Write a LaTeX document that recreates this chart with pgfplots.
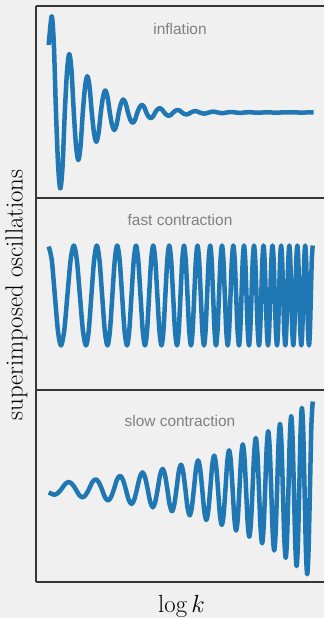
\documentclass[border=0pt]{standalone}
\usepackage{fontspec}
\usepackage{pgfplots}
\pgfplotsset{compat=1.18}
\newfontfamily\titlefont{Liberation Sans}
\definecolor{bgc}{RGB}{240,240,240}
\definecolor{curve}{RGB}{31,119,180}
\definecolor{framec}{RGB}{55,55,55}
\definecolor{titlec}{RGB}{128,128,128}
\pgfplotsset{
  panel/.style={scale only axis, width=288bp, height=192bp, xmin=36, xmax=324,
    ticks=none, axis x line*=box, axis y line*=left,
    axis line style={-, draw=framec, line width=1.3bp}, anchor=south west},
  curvestyle/.style={draw=curve, line width=4.5bp, smooth, no marks, line join=round}
}
\tikzset{ttl/.style={anchor=base, text=titlec, font=\titlefont\fontsize{15.5}{18}\selectfont}}
\begin{document}
\begin{tikzpicture}
\fill[bgc] (0,0) rectangle (324bp,618bp);
\useasboundingbox (0,0) rectangle (324bp,618bp);
% inflation
\begin{axis}[panel, at={(36bp,420bp)}, ymin=-85.5, ymax=106.5]
\addplot[curvestyle] coordinates {
(48.7,67.5) (51.7,96.3) (53.85,68.1) (56,0) (58.15,-53.7) (60.3,-76) (62.55,-53.7) (64.8,0) (67.05,41.4) (69.3,58.6) (71.55,41.4) (73.8,0) (76.05,-33.7) (78.3,-47.6) (80.55,-33.7) (82.8,0) (85.05,25.7) (87.3,36.3) (89.55,25.7) (91.8,0) (94.05,-20.7) (96.3,-29.3) (98.55,-20.7) (100.8,0) (103.05,15.6) (105.3,22) (107.55,15.6) (109.8,0) (112.05,-12.4) (114.3,-17.6) (116.55,-12.4) (118.8,0) (121.05,9.2) (123.3,13) (125.65,9.2) (128,0) (130.35,-7.3) (132.7,-10.3) (135.03,-7.3) (137.35,0) (139.68,5.4) (142,7.6) (144.18,5.4) (146.35,0) (148.53,-4.1) (150.7,-5.8) (152.95,-4.1) (155.2,0) (157.45,3.1) (159.7,4.4) (161.95,3.1) (164.2,0) (166.45,-2.4) (168.7,-3.4) (170.95,-2.4) (173.2,0) (175.45,1.8) (177.7,2.6) (179.95,1.8) (182,0) (184.15,-1.4) (186.3,-2.0) (188.55,-1.4) (190.8,0) (195.3,1.5) (199.8,0) (204.3,-1.2) (208.8,0) (213.3,0.9) (217.8,0) (222.3,-0.7) (226.8,0) (231.3,0.5) (235.8,0) (240.3,-0.4) (244.8,0) (249.3,0.3) (253.8,0) (258.3,-0.25) (262.8,0) (267.3,0.2) (271.8,0) (276.3,-0.15) (280.8,0) (285.3,0.1) (294.3,0) (313.7,0)
};
\node[ttl] at (rel axis cs:0.5,0.854) {inflation};
\end{axis}
% fast contraction
\begin{axis}[panel, at={(36bp,228bp)}, ymin=-94.5, ymax=97.5]
\addplot[curvestyle] coordinates {
(48.7,49) (51.78,35.4) (54.85,0) (57.93,-35.4) (61,-50) (64.2,-35.4) (67.4,0) (70.6,35.4) (73.8,50) (76.85,35.4) (79.9,0) (82.95,-35.4) (86,-50) (88.7,-35.4) (91.4,0) (94.1,35.4) (96.8,50) (99.48,35.4) (102.15,0) (104.83,-35.4) (107.5,-50) (109.93,-35.4) (112.35,0) (114.78,35.4) (117.2,50) (119.65,35.4) (122.1,0) (124.55,-35.4) (127,-50) (129.25,-35.4) (131.5,0) (133.75,35.4) (136,50) (138.25,35.4) (140.5,0) (142.75,-35.4) (145,-50) (147.05,-35.4) (149.1,0) (151.15,35.4) (153.2,50) (155.28,35.4) (157.35,0) (159.43,-35.4) (161.5,-50) (163.43,-35.4) (165.35,0) (167.28,35.4) (169.2,50) (171.15,35.4) (173.1,0) (175.05,-35.4) (177,-50) (178.75,-35.4) (180.5,0) (182.25,35.4) (184,50) (185.75,35.4) (187.5,0) (189.25,-35.4) (191,-50) (192.63,-35.4) (194.25,0) (195.88,35.4) (197.5,50) (199.13,35.4) (200.75,0) (202.38,-35.4) (204,-50) (205.55,-35.4) (207.1,0) (208.65,35.4) (210.2,50) (211.65,35.4) (213.1,0) (214.55,-35.4) (216,-50) (217.5,-35.4) (219,0) (220.5,35.4) (222,50) (223.43,35.4) (224.85,0) (226.28,-35.4) (227.7,-50) (229.1,-35.4) (230.5,0) (231.9,35.4) (233.3,50) (234.73,35.4) (236.15,0) (237.58,-35.4) (239,-50) (240.25,-35.4) (241.5,0) (242.75,35.4) (244,50) (245.25,35.4) (246.5,0) (247.75,-35.4) (249,-50) (250.25,-35.4) (251.5,0) (252.75,35.4) (254,50) (255.25,35.4) (256.5,0) (257.75,-35.4) (259,-50) (260.13,-35.4) (261.25,0) (262.38,35.4) (263.5,50) (264.63,35.4) (265.75,0) (266.88,-35.4) (268,-50) (269.13,-35.4) (270.25,0) (271.38,35.4) (272.5,50) (273.63,35.4) (274.75,0) (275.88,-35.4) (277,-50) (278.03,-35.4) (279.05,0) (280.08,35.4) (281.1,50) (282.15,35.4) (283.2,0) (284.25,-35.4) (285.3,-50) (286.3,-35.4) (287.3,0) (288.3,35.4) (289.3,50) (290.3,35.4) (291.3,0) (292.3,-35.4) (293.3,-50) (294.3,-35.4) (295.3,0) (296.3,35.4) (297.3,50) (298.3,35.4) (299.3,0) (300.3,-35.4) (301.3,-50) (302.28,-35.4) (303.25,0) (304.23,35.4) (305.2,50) (306.15,35.4) (307.1,0) (308.05,-35.4) (309,-50) (309.93,-35.4) (310.85,0) (311.78,35.4) (312.7,50)
};
\node[ttl] at (rel axis cs:0.5,0.859) {fast contraction};
\end{axis}
% slow contraction
\begin{axis}[panel, at={(36bp,36bp)}, ymin=-93, ymax=99]
\addplot[curvestyle] coordinates {
(48.7,-3.5) (54.3,-5.7) (57.9,-4.0) (61.5,0) (65.1,4.9) (68.7,7) (72.15,4.9) (75.6,0) (79.05,-5.9) (82.5,-8.3) (85.78,-5.9) (89.05,0) (92.33,6.9) (95.6,9.7) (98.7,6.9) (101.8,0) (104.9,-8.1) (108,-11.5) (111,-8.1) (114,0) (117,9.3) (120,13.2) (122.88,9.3) (125.75,0) (128.63,-10.6) (131.5,-15) (134.25,-10.6) (137,0) (139.75,11.7) (142.5,16.6) (145.08,11.7) (147.65,0) (150.23,-12.9) (152.8,-18.3) (155.25,-12.9) (157.7,0) (160.15,14.3) (162.6,20.2) (164.95,14.3) (167.3,0) (169.65,-15.7) (172,-22.2) (174.25,-15.7) (176.5,0) (178.75,17.2) (181,24.3) (183.18,17.2) (185.35,0) (187.53,-18.6) (189.7,-26.3) (191.8,-18.6) (193.9,0) (196,20.2) (198.1,28.6) (200.15,20.2) (202.2,0) (204.25,-21.9) (206.3,-31) (208.28,-21.9) (210.25,0) (212.23,23.6) (214.2,33.4) (216.1,23.6) (218,0) (219.9,-25.5) (221.8,-36) (223.63,-25.5) (225.45,0) (227.28,27.4) (229.1,38.7) (230.85,27.4) (232.6,0) (234.35,-29.4) (236.1,-41.6) (237.78,-29.4) (239.45,0) (241.13,31.6) (242.8,44.7) (244.43,31.6) (246.05,0) (247.68,-33.8) (249.3,-47.8) (250.93,-33.8) (252.55,0) (254.18,36.1) (255.8,51.1) (257.38,36.1) (258.95,0) (260.53,-38.5) (262.1,-54.4) (263.63,-38.5) (265.15,0) (266.68,40.9) (268.2,57.9) (269.7,40.9) (271.2,0) (272.7,-43.5) (274.2,-61.5) (275.65,-43.5) (277.1,0) (278.55,46.1) (280,65.2) (281.43,46.1) (282.85,0) (284.28,-48.8) (285.7,-69) (287.08,-48.8) (288.45,0) (289.83,51.6) (291.2,73) (292.55,51.6) (293.9,0) (295.25,-54.5) (296.6,-77.1) (297.93,-54.5) (299.25,0) (300.58,57.4) (301.9,81.2) (303.23,57.4) (304.55,0) (305.88,-60.3) (307.2,-85.3) (308.58,-60.3) (309.95,0) (311.33,61.9) (312.7,87.5)
};
\node[ttl] at (rel axis cs:0.5,0.8125) {slow contraction};
\end{axis}
\node[rotate=90, anchor=base, font=\fontsize{24.88}{30}\selectfont] at (22.7bp,323bp) {superimposed oscillations};
\node[anchor=base, font=\fontsize{24.88}{30}\selectfont] at (181.5bp,5.5bp) {$\log k$};
\end{tikzpicture}
\end{document}
